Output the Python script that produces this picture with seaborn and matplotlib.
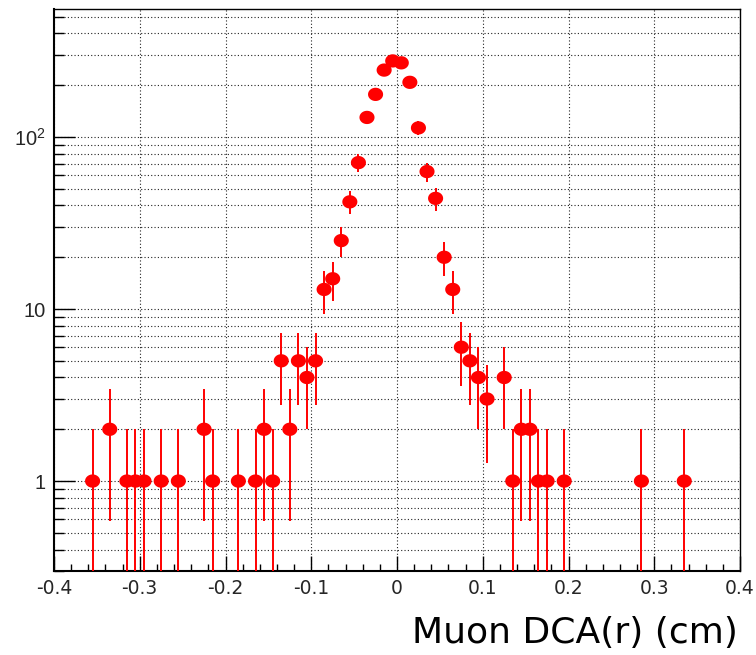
import numpy as np
import pandas as pd
import matplotlib
matplotlib.use("Agg")
import matplotlib.pyplot as plt
import seaborn as sns
from matplotlib.path import Path
from matplotlib.ticker import FixedLocator, FixedFormatter, LogLocator, NullFormatter, MultipleLocator

# ---- data (bin centres in cm, counts per bin) ----
dca_cm = [-0.355, -0.335, -0.315, -0.305, -0.295, -0.275, -0.255, -0.225, -0.215,
          -0.185, -0.165, -0.155, -0.145, -0.135, -0.125, -0.115, -0.105, -0.095,
          -0.085, -0.075, -0.065, -0.055, -0.045, -0.035, -0.025, -0.015, -0.005,
          0.005, 0.015, 0.025, 0.035, 0.045, 0.055, 0.065, 0.075, 0.085, 0.095,
          0.105, 0.125, 0.135, 0.145, 0.155, 0.165, 0.175, 0.195, 0.285, 0.335]
counts = [1, 2, 1, 1, 1, 1, 1, 2, 1,
          1, 1, 2, 1, 5, 2, 5, 4, 5,
          13, 15, 25, 42, 71, 130, 177, 245, 277,
          270, 208, 113, 63, 44, 20, 13, 6, 5, 4,
          3, 4, 1, 2, 2, 1, 1, 1, 1, 1]
x_ticks = [-0.4, -0.3, -0.2, -0.1, 0.0, 0.1, 0.2, 0.3, 0.4]
x_tick_labels = ["-0.4", "-0.3", "-0.2", "-0.1", "0", "0.1", "0.2", "0.3", "0.4"]
y_ticks = [1, 10, 100]
y_tick_labels = ["1", "10", r"10$^{2}$"]
x_label = "Muon DCA(r) (cm)"

df = pd.DataFrame({"dca": dca_cm, "counts": counts})
cnt = df["counts"].to_numpy(dtype=float)
err = np.sqrt(cnt)
lo = np.maximum(cnt - err, 1e-3)
hi = cnt + err

sns.set_theme(style="white")
plt.rcParams["font.family"] = ["Liberation Sans", "DejaVu Sans"]
plt.rcParams["axes.unicode_minus"] = False
plt.rcParams["mathtext.fontset"] = "custom"
plt.rcParams["mathtext.rm"] = "Liberation Sans"
plt.rcParams["mathtext.it"] = "Liberation Sans:italic"
plt.rcParams["mathtext.bf"] = "Liberation Sans:bold"

fig = plt.figure(figsize=(7.56, 6.55), dpi=100)
fig.patch.set_facecolor("white")
ax = fig.add_axes([54 / 756, 1 - 571 / 655, (740 - 54) / 756, (571 - 9) / 655])
ax.set_facecolor("white")

ax.set_yscale("log")
ax.set_xlim(-0.4, 0.4)
ax.set_ylim(0.3, 555)

# error bars
ax.vlines(df["dca"], lo, hi, color="#ff0000", lw=1.4, zorder=3)

# elliptical marker like the ROOT rendering
t = np.linspace(0, 2 * np.pi, 60)
ell = Path(np.column_stack([np.cos(t), 0.88 * np.sin(t)]))
sns.scatterplot(data=df, x="dca", y="counts", marker=ell, s=118, color="#ff0000",
                edgecolor="none", linewidth=0, ax=ax, legend=False, zorder=4)
ax.set_xlabel("")
ax.set_ylabel("")

# ticks
ax.xaxis.set_major_locator(FixedLocator(x_ticks))
ax.xaxis.set_major_formatter(FixedFormatter(x_tick_labels))
ax.xaxis.set_minor_locator(MultipleLocator(0.02))
ax.yaxis.set_major_locator(FixedLocator(y_ticks))
ax.yaxis.set_major_formatter(FixedFormatter(y_tick_labels))
ax.yaxis.set_minor_locator(LogLocator(base=10, subs=np.arange(2, 10)))
ax.yaxis.set_minor_formatter(NullFormatter())

ax.tick_params(axis="x", which="major", direction="in", length=11, width=1.0,
               color="black", labelsize=13.5, pad=6, bottom=True, top=False)
ax.tick_params(axis="x", which="minor", direction="in", length=5, width=1.0,
               color="black", bottom=True, top=False)
ax.tick_params(axis="y", which="major", direction="in", length=15, width=1.0,
               color="black", labelsize=14.5, pad=6, left=True, right=False)
ax.tick_params(axis="y", which="minor", direction="in", length=7.5, width=1.0,
               color="black", left=True, right=False)
for lab in ax.get_xticklabels():
    lab.set_family(["DejaVu Sans"])

# dotted grid
ax.grid(True, axis="x", which="major", color="#222222", linestyle=(0, (1, 2)), lw=0.8)
ax.grid(True, axis="y", which="both", color="#222222", linestyle=(0, (1, 2)), lw=0.8)
ax.set_axisbelow(True)

for side, sp in ax.spines.items():
    sp.set_visible(True)
    sp.set_color("black")
    sp.set_linewidth(1.5 if side in ("left", "bottom") else 1.0)

fig.text(738 / 756, 1 - 643 / 655, x_label, ha="right", va="baseline", fontsize=26,
         color="black", family=["DejaVu Sans"])

fig.savefig("out.png", dpi=100, facecolor="white")
